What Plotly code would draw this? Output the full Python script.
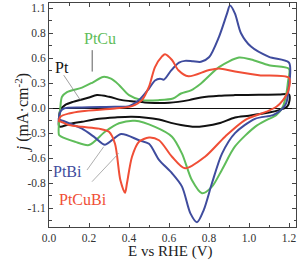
import plotly.graph_objects as go

# ---------------- data (E in V vs RHE, j in mA cm^-2) ----------------
pt_E = [0.05, 0.057, 0.08, 0.12, 0.165, 0.2, 0.24, 0.3, 0.365, 0.43, 0.5, 0.6, 0.7, 0.76, 0.85, 0.93, 1.05, 1.15, 1.2,
        1.203, 1.19, 1.15, 1.1, 1.0, 0.93, 0.85, 0.78, 0.73, 0.66, 0.61, 0.55, 0.415, 0.33, 0.25, 0.165, 0.1, 0.057, 0.05]
pt_j = [-0.2, -0.02, 0.034, 0.07, 0.097, 0.12, 0.146, 0.127, 0.09, 0.075, 0.06, 0.06, 0.09, 0.12, 0.14, 0.146, 0.15, 0.153, 0.153,
        0.09, 0.015, -0.022, -0.05, -0.085, -0.105, -0.17, -0.2, -0.21, -0.19, -0.165, -0.127, -0.097, -0.105, -0.12, -0.153, -0.18, -0.21, -0.2]

ptcu_E = [0.05, 0.057, 0.065, 0.09, 0.165, 0.22, 0.27, 0.31, 0.35, 0.4, 0.465, 0.55, 0.62, 0.66, 0.71, 0.76, 0.85, 0.95, 1.01, 1.1, 1.2,
          1.195, 1.187, 1.17, 1.137, 1.087, 1.03, 0.93, 0.865, 0.815, 0.765, 0.715, 0.665, 0.615, 0.53, 0.43, 0.35, 0.28, 0.2, 0.13, 0.057, 0.05]
ptcu_j = [-0.3, 0.015, 0.127, 0.18, 0.23, 0.29, 0.35, 0.33, 0.26, 0.146, 0.09, 0.09, 0.108, 0.164, 0.2, 0.277, 0.46, 0.567, 0.545, 0.48, 0.44,
          0.3, 0.164, 0.02, -0.078, -0.134, -0.21, -0.43, -0.69, -0.88, -0.955, -0.81, -0.51, -0.32, -0.21, -0.142, -0.17, -0.265, -0.414, -0.377, -0.314, -0.3]

ptbi_E = [0.05, 0.057, 0.074, 0.165, 0.33, 0.4, 0.45, 0.5, 0.53, 0.555, 0.575, 0.61, 0.65, 0.68, 0.72, 0.76, 0.8, 0.85, 0.89, 0.905, 0.93, 0.96, 1.01, 1.1, 1.2,
          1.197, 1.185, 1.16, 1.12, 1.03, 0.93, 0.865, 0.815, 0.774, 0.74, 0.707, 0.665, 0.615, 0.55, 0.5, 0.45, 0.36, 0.28, 0.23, 0.165, 0.1, 0.057, 0.05]
ptbi_j = [-0.13, -0.04, -0.004, 0.008, 0.015, 0.022, 0.09, 0.22, 0.31, 0.33, 0.32, 0.42, 0.51, 0.53, 0.525, 0.52, 0.57, 0.8, 1.06, 1.15, 1.06, 0.84, 0.69, 0.575, 0.51,
          0.2, 0.05, -0.022, -0.078, -0.12, -0.28, -0.51, -0.84, -1.14, -1.28, -1.18, -0.88, -0.73, -0.58, -0.4, -0.36, -0.29, -0.41, -0.33, -0.23, -0.17, -0.134, -0.13]

ptcubi_E = [0.05, 0.057, 0.1, 0.165, 0.33, 0.415, 0.465, 0.5, 0.53, 0.565, 0.58, 0.615, 0.647, 0.697, 0.797, 0.85, 0.93, 1.05, 1.2,
            1.197, 1.17, 1.137, 1.087, 0.98, 0.88, 0.78, 0.68, 0.615, 0.55, 0.5, 0.45, 0.415, 0.39, 0.38, 0.357, 0.33, 0.3, 0.25, 0.165, 0.1, 0.057, 0.05]
ptcubi_j = [-0.15, -0.097, -0.06, -0.034, -0.004, 0.022, 0.09, 0.24, 0.46, 0.58, 0.605, 0.54, 0.425, 0.358, 0.425, 0.445, 0.41, 0.37, 0.34,
            0.2, 0.09, 0.015, -0.04, -0.134, -0.32, -0.545, -0.675, -0.545, -0.36, -0.33, -0.377, -0.545, -0.84, -0.95, -0.81, -0.4, -0.265, -0.23, -0.21, -0.19, -0.15, -0.15]

series_names = ["Pt", "PtCu", "PtBi", "PtCuBi"]
series_colors = ["#111111", "#5fbd5a", "#3f4c9e", "#f04e36"]

y_tickvals = [-1.12, -0.84, -0.56, -0.28, 0.0, 0.28, 0.56, 0.84, 1.12]
y_ticktext = ["-1.1", "-0.8", "-0.6", "-0.3", "0.0", "0.3", "0.6", "0.8", "1.1"]
x_tickvals = [0.0, 0.2, 0.4, 0.6, 0.8, 1.0, 1.2]
x_ticktext = ["0.0", "0.2", "0.4", "0.6", "0.8", "1.0", "1.2"]

# label positions and leader lines (data coords)
label_x = [0.066, 0.253, 0.094, 0.168]
label_y = [0.46, 0.784, -0.706, -1.02]
leader_x0 = [0.0735, 0.216, 0.19, 0.215]
leader_y0 = [0.37, 0.65, -0.694, -0.825]
leader_x1 = [0.157, 0.216, 0.2735, 0.3485]
leader_y1 = [0.09, 0.41, -0.433, -0.507]
leader_colors = ["#888888", "#333333", "#999999", "#999999"]

FONT = "Liberation Serif"

fig = go.Figure()
all_E = [pt_E, ptcu_E, ptbi_E, ptcubi_E]
all_j = [pt_j, ptcu_j, ptbi_j, ptcubi_j]
for name, E, j, c in zip(series_names, all_E, all_j, series_colors):
    fig.add_trace(go.Scatter(x=E, y=j, mode="lines", name=name,
                             line=dict(color=c, width=2, shape="spline", smoothing=0.8)))

for i, name in enumerate(series_names):
    fig.add_shape(type="line", xref="x", yref="y",
                  x0=leader_x0[i], y0=leader_y0[i], x1=leader_x1[i], y1=leader_y1[i],
                  line=dict(color=leader_colors[i], width=0.8))
    fig.add_annotation(x=label_x[i], y=label_y[i], xref="x", yref="y", text=name,
                       showarrow=False, font=dict(family=FONT, size=16, color=series_colors[i]))

fig.add_annotation(xref="paper", yref="paper", x=-0.158, y=0.51, textangle=-90,
                   text="<i>j</i> (mA·cm<sup>-2</sup>)", showarrow=False,
                   font=dict(family=FONT, size=16, color="#222"))
fig.add_annotation(xref="paper", yref="paper", x=0.49, y=-0.152,
                   text="E vs RHE (V)", showarrow=False, yanchor="bottom",
                   borderpad=0,
                   font=dict(family=FONT, size=15, color="#222"))

axis_common = dict(showline=True, linecolor="#444", linewidth=1, mirror="ticks",
                   ticks="inside", ticklen=4, tickwidth=1, tickcolor="#444",
                   showgrid=False, tickfont=dict(family=FONT, size=11.5, color="#333"))

fig.update_xaxes(range=[0, 1.235], tickvals=x_tickvals, ticktext=x_ticktext,
                 zeroline=False,
                 minor=dict(ticks="inside", tick0=0, dtick=0.1, ticklen=2.5, tickcolor="#444"),
                 **axis_common)
fig.update_yaxes(range=[-1.333, 1.179], tickvals=y_tickvals, ticktext=y_ticktext,
                 zeroline=True, zerolinecolor="#111", zerolinewidth=1.2,
                 minor=dict(ticks="inside", tick0=0, dtick=0.14, ticklen=2.5, tickcolor="#444"),
                 **axis_common)

fig.update_layout(width=304, height=261, margin=dict(l=49, r=8, t=3, b=34),
                  paper_bgcolor="white", plot_bgcolor="white", showlegend=False)

fig.write_html("out.html")
